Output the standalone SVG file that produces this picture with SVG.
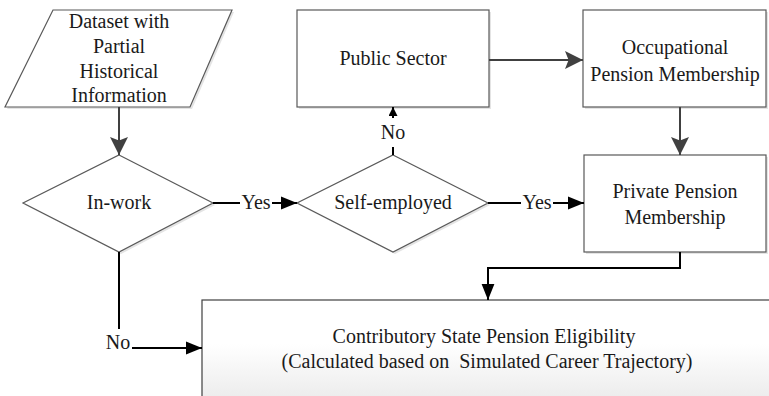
<svg xmlns="http://www.w3.org/2000/svg" width="769" height="396" viewBox="0 0 769 396">
<defs>
<style>
.shape{fill:#fff;stroke:#595959;stroke-width:1.2}
.shadow{fill:#e4e4e4;stroke:none}
.t{font-family:'Liberation Serif','Times New Roman',serif;font-size:20px;fill:#1a1a1a;text-anchor:middle}
.cg{fill:none;stroke:#404040;stroke-width:2}
.ck{fill:none;stroke:#000;stroke-width:2}
</style>
<marker id="ak" viewBox="0 0 10 10" refX="10" refY="5" markerWidth="9" markerHeight="9" markerUnits="userSpaceOnUse" orient="auto"><path d="M0,0 L10,5 L0,10 Z" fill="#000"/></marker>
<marker id="agL" viewBox="0 0 10 10" refX="10" refY="5" markerWidth="18" markerHeight="18" markerUnits="userSpaceOnUse" orient="auto"><path d="M0,0 L10,5 L0,10 L2,5 Z" fill="#404040"/></marker>
<marker id="akL" viewBox="0 0 10 10" refX="10" refY="5" markerWidth="16" markerHeight="16" markerUnits="userSpaceOnUse" orient="auto"><path d="M0,1 L10,5 L0,9 Z" fill="#000"/></marker>
<linearGradient id="bg" x1="0" y1="0" x2="0" y2="1"><stop offset="0" stop-color="#fff"/><stop offset="0.4" stop-color="#fff"/><stop offset="1" stop-color="#e8e8e8"/></linearGradient>
</defs>

<g id="dataset">
<polygon class="shadow" points="55,12 234,12 192,109 7,109"/>
<polygon class="shape" points="53,10 232,10 190,107 5,107"/>
<text class="t" x="119" y="28">Dataset with</text>
<text class="t" x="119" y="53">Partial</text>
<text class="t" x="119" y="78">Historical</text>
<text class="t" x="119" y="102">Information</text>
</g>

<g id="in-work">
<polygon class="shadow" points="121,157 215,205 121,254 25,205"/>
<polygon class="shape" points="119,155 213,203 119,252 23,203"/>
<text class="t" x="119" y="209">In-work</text>
</g>

<g id="self-employed">
<polygon class="shadow" points="395,157 490,205 395,254 299,205"/>
<polygon class="shape" points="393,155 488,203 393,252 297,203"/>
<text class="t" x="393" y="209">Self-employed</text>
</g>

<g id="public-sector">
<rect class="shadow" x="299" y="12" width="192" height="97"/>
<rect class="shape" x="297" y="10" width="192" height="97"/>
<text class="t" x="393" y="65">Public Sector</text>
</g>

<g id="occupational">
<rect class="shadow" x="585" y="12" width="183" height="97"/>
<rect class="shape" x="583" y="10" width="183" height="97"/>
<text class="t" x="675" y="54">Occupational</text>
<text class="t" x="675" y="81">Pension Membership</text>
</g>

<g id="private">
<rect class="shadow" x="586" y="157" width="182" height="97"/>
<rect class="shape" x="584" y="155" width="182" height="97"/>
<text class="t" x="675" y="198">Private Pension</text>
<text class="t" x="675" y="224">Membership</text>
</g>

<g id="state-pension">
<rect x="202" y="300" width="580" height="110" fill="url(#bg)" stroke="#404040" stroke-width="1.2"/>
<text class="t" x="484" y="343">Contributory State Pension Eligibility</text>
<text class="t" x="487" y="368" xml:space="preserve">(Calculated based on  Simulated Career Trajectory)</text>
</g>

<g id="connectors">
<path class="cg" d="M119,107 V155" marker-end="url(#agL)"/>
<path class="cg" d="M489,60 H583" marker-end="url(#agL)"/>
<path class="cg" d="M680,107 V155" marker-end="url(#agL)"/>
<path class="ck" d="M213,203 H240"/>
<text class="t" x="256" y="209">Yes</text>
<path class="ck" d="M272,203 H297" marker-end="url(#akL)"/>
<path class="ck" d="M488,203 H521"/>
<text class="t" x="537" y="209">Yes</text>
<path class="ck" d="M553,203 H584" marker-end="url(#akL)"/>
<path class="ck" d="M393,155 V147"/>
<text class="t" x="393" y="139">No</text>
<path class="ck" d="M393,118 V107" marker-end="url(#ak)"/>
<path class="ck" d="M680,252 V268 H488 V300" marker-end="url(#akL)"/>
<path class="ck" d="M119,252 V329"/>
<text class="t" x="118" y="349">No</text>
<path class="ck" d="M132,348 H202" marker-end="url(#akL)"/>
</g>
</svg>
